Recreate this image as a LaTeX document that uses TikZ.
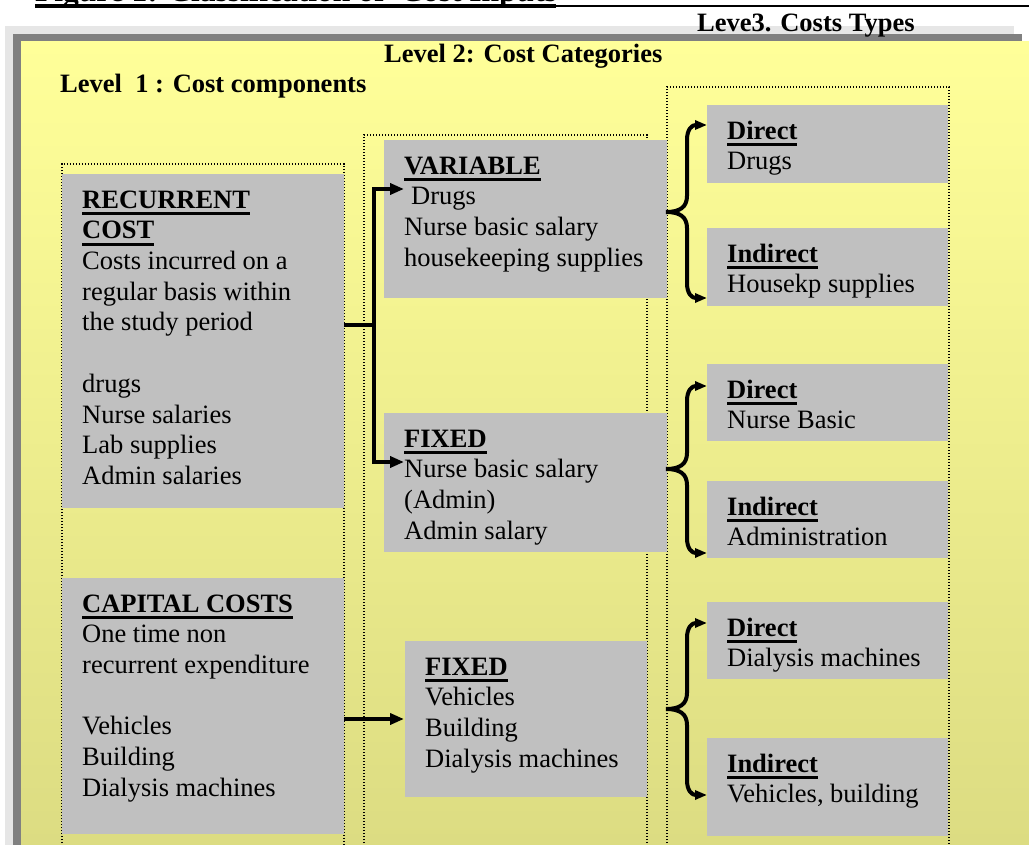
\documentclass[tikz,border=0pt]{standalone}
\usepackage{fontspec}
\setmainfont{Liberation Serif}
\usetikzlibrary{arrows.meta}
\definecolor{boxgray}{HTML}{C0C0C0}
\definecolor{bglight}{HTML}{E6E6E6}
\definecolor{shadowgray}{HTML}{808080}
\definecolor{ytop}{HTML}{FFFF99}
\definecolor{ymid}{HTML}{F0EF8E}
\definecolor{ybot}{HTML}{DCDC82}
\newsavebox\ulbox
\newcommand\ulw[1]{\sbox\ulbox{#1}\rlap{\rule[-7pt]{\wd\ulbox}{2.7pt}}\usebox\ulbox}
\newcommand\bodyfont{\fontsize{26.5}{30.7}\selectfont}
% #1 tip coordinate, #2 tip y, #3 end y, #4 direction (-1 up, 1 down)
\newcommand\bracepath[4]{%
  \draw[brc] (#1) .. controls (680,#2) and (687,#2+#4*5) .. (687,#2+#4*16) -- (687,#3-#4*15) .. controls (687,#3-#4*4) and (692,#3) .. (707,#3);
}
\begin{document}
\begin{tikzpicture}[x=1pt,y=-1pt,
  gbox/.style={fill=boxgray, draw=none, inner sep=0pt, anchor=north west},
  txt/.style={anchor=north west, inner sep=0pt, align=left, font=\bodyfont},
  dotcol/.style={draw=black, line width=1.2pt, dash pattern=on 1.2pt off 1.8pt},
  arr/.style={line width=4pt, -{Triangle[length=14pt,width=11pt]}},
  brc/.style={line width=4pt, line join=round, -{Triangle[length=12pt,width=9pt]}},
  hdr/.style={anchor=base west, inner sep=0pt, font=\bodyfont\bfseries}]
\useasboundingbox (0,0) rectangle (1029,845);
\clip (0,0) rectangle (1029,845);
% background frame
\fill[bglight] (5,26) rectangle (1014,900);
\fill[shadowgray] (13,34) rectangle (1022,900);
\shade[top color=ytop, middle color=ymid, bottom color=ybot] (21,42) rectangle (1040,845);
% title (cut off at top, as in the source)
\node[anchor=base west, inner sep=0pt, font=\fontsize{31.5}{36}\selectfont\bfseries] (title) at (35,2) {Figure 1: Classification of\ \ Cost Inputs};
\fill (35,4.5) rectangle (556,8);
\draw[line width=1.5pt] (556,6) -- (1029,6);
% headers
\node[hdr] (h3) at (697,32) {Leve3. Costs Types};
\node[hdr] (h2) at (384,63) {Level 2: Cost Categories};
\node[hdr] (h1) at (60,93) {Level\ \ 1 : Cost components};
% dotted columns
\draw[dotcol] (62,900) -- (62,164) -- (344,164) -- (344,900);
\draw[dotcol] (364,900) -- (364,135) -- (647,135) -- (647,900);
\draw[dotcol] (667,900) -- (667,87) -- (949,87) -- (949,900);
% gray boxes
\node[gbox, minimum width=282pt, minimum height=334pt] (rec) at (62,174) {};
\node[gbox, minimum width=282pt, minimum height=256pt] (cap) at (62,578) {};
\node[gbox, minimum width=283pt, minimum height=158pt] (var) at (384,140) {};
\node[gbox, minimum width=283pt, minimum height=139pt] (fix1) at (384,413) {};
\node[gbox, minimum width=242pt, minimum height=156pt] (fix2) at (405,641) {};
\node[gbox, minimum width=241pt, minimum height=78pt] (d1) at (707,105) {};
\node[gbox, minimum width=241pt, minimum height=78pt] (i1) at (707,228) {};
\node[gbox, minimum width=241pt, minimum height=77pt] (d2) at (707,364) {};
\node[gbox, minimum width=241pt, minimum height=77pt] (i2) at (707,481) {};
\node[gbox, minimum width=241pt, minimum height=77pt] (d3) at (707,602) {};
\node[gbox, minimum width=241pt, minimum height=98pt] (i3) at (707,738) {};
% texts
\node[txt] (rect) at (82,186.5) {\strut\ulw{\textbf{RECURRENT}}\\ \ulw{\textbf{COST}}\\ Costs incurred on a\\ regular basis within\\ the study period\\[30.7pt] drugs\\ Nurse salaries\\ Lab supplies\\ Admin salaries};
\node[txt] (capt) at (82,590.5) {\strut\ulw{\textbf{CAPITAL COSTS}}\\ One time non\\ recurrent expenditure\\[30.7pt] Vehicles\\ Building\\ Dialysis machines};
\node[txt] (vart) at (404,152.5) {\strut\ulw{\textbf{VARIABLE}}\\ \hspace*{7pt}Drugs\\ Nurse basic salary\\ housekeeping supplies};
\node[txt] (fix1t) at (404,425.5) {\strut\ulw{\textbf{FIXED}}\\ Nurse basic salary\\ (Admin)\\ Admin salary};
\node[txt] (fix2t) at (425,653.5) {\strut\ulw{\textbf{FIXED}}\\ Vehicles\\ Building\\ Dialysis machines};
\node[txt] (d1t) at (727,117.5) {\strut\ulw{\textbf{Direct}}\\ Drugs};
\node[txt] (i1t) at (727,240.5) {\strut\ulw{\textbf{Indirect}}\\ Housekp supplies};
\node[txt] (d2t) at (727,376.5) {\strut\ulw{\textbf{Direct}}\\ Nurse Basic};
\node[txt] (i2t) at (727,493.5) {\strut\ulw{\textbf{Indirect}}\\ Administration};
\node[txt] (d3t) at (727,614.5) {\strut\ulw{\textbf{Direct}}\\ Dialysis machines};
\node[txt] (i3t) at (727,750.5) {\strut\ulw{\textbf{Indirect}}\\ Vehicles, building};
% connectors level 1 -> level 2
\coordinate (jr) at (374,325);
\coordinate (vt) at (404,189);
\coordinate (ft) at (404,462);
\coordinate (ct) at (404,719);
\draw[line width=4pt] (rec.east |- jr) -- (jr);
\draw[arr] (jr) |- (vt);
\draw[arr] (jr) |- (ft);
\draw[arr] (cap.east |- ct) -- (ct);
% braces level 2 -> level 3
\coordinate (b1) at (666,212);
\coordinate (b2) at (666,469);
\coordinate (b3) at (666,709);
\bracepath{b1}{212}{125}{-1}
\bracepath{b1}{212}{298}{1}
\bracepath{b2}{469}{386}{-1}
\bracepath{b2}{469}{553}{1}
\bracepath{b3}{709}{623}{-1}
\bracepath{b3}{709}{795}{1}
\end{tikzpicture}
\end{document}
